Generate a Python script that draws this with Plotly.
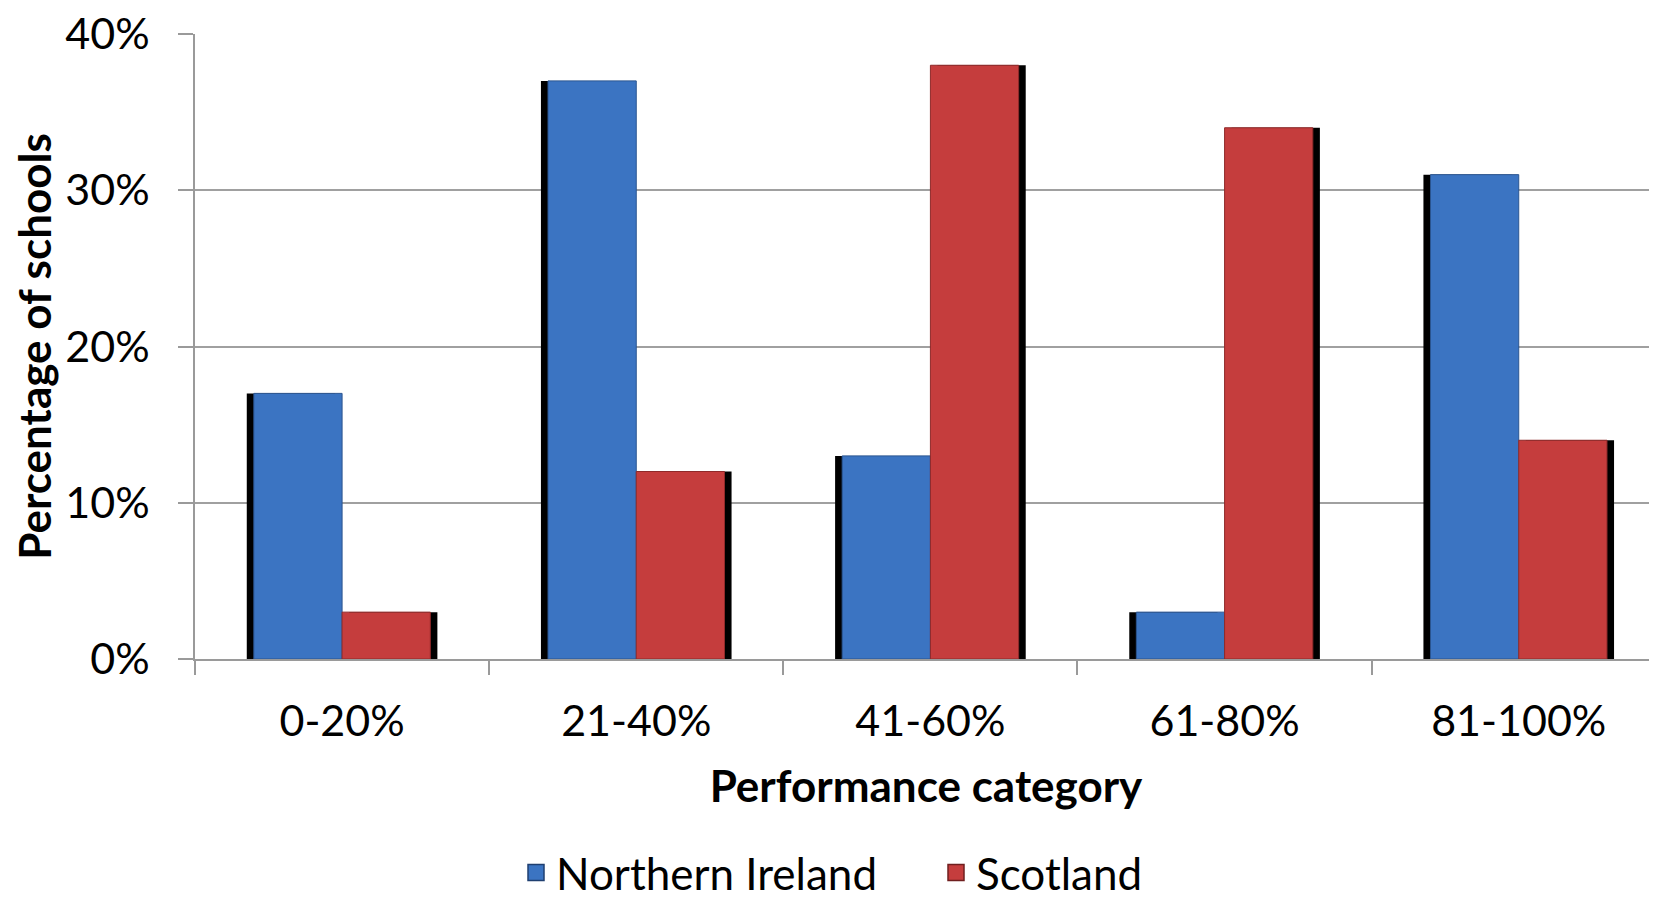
import plotly.graph_objects as go

categories = ["0-20%", "21-40%", "41-60%", "61-80%", "81-100%"]
northern_ireland = [17, 37, 13, 3, 31]
scotland = [3, 12, 38, 34, 14]
y_ticks = [0, 10, 20, 30, 40]
y_tick_labels = ["0%", "10%", "20%", "30%", "40%"]
series_names = ["Northern Ireland", "Scotland"]

BW = 0.30
SH = 0.024
FONT = "Lato"
BLUE = "#3b74c2"
RED = "#c53d3d"

fig = go.Figure()
# shadows
fig.add_trace(go.Bar(x=categories, y=northern_ireland, offset=-BW - SH, width=BW,
                     marker=dict(color="black", line=dict(width=0)), showlegend=False, hoverinfo="skip"))
fig.add_trace(go.Bar(x=categories, y=scotland, offset=SH, width=BW,
                     marker=dict(color="black", line=dict(width=0)), showlegend=False, hoverinfo="skip"))
# bars
fig.add_trace(go.Bar(x=categories, y=northern_ireland, offset=-BW, width=BW, name=series_names[0],
                     marker=dict(color=BLUE, line=dict(color="#2b5590", width=1)), showlegend=False))
fig.add_trace(go.Bar(x=categories, y=scotland, offset=0, width=BW, name=series_names[1],
                     marker=dict(color=RED, line=dict(color="#8f2a2a", width=1)), showlegend=False))
# legend entries with square symbols
for name, col, edge in [(series_names[0], BLUE, "#1f3f70"), (series_names[1], RED, "#6f1f1f")]:
    fig.add_trace(go.Scatter(x=[None], y=[None], mode="markers", name=name,
                             marker=dict(symbol="square", size=25, color=col, line=dict(color=edge, width=1.5))))

# page body has an 8px margin: figure is sized/offset to compensate
fig.update_layout(
    width=1649, height=893,
    margin=dict(l=187, r=0, t=26, b=242),
    barmode="overlay",
    plot_bgcolor="white", paper_bgcolor="white",
    font=dict(family=FONT, size=43, color="black"),
    legend=dict(orientation="h", xref="container", x=508 / 1649, xanchor="left",
                yref="container", y=0.0314, yanchor="middle",
                font=dict(size=44), itemwidth=30, traceorder="normal",
                entrywidth=375, entrywidthmode="pixels"),
)
fig.update_xaxes(
    range=[-0.5, 4.47], type="category", automargin=False,
    showline=True, linecolor="#9a9a9a", linewidth=1.5,
    ticks="outside", tickson="boundaries", ticklen=14, tickcolor="#9a9a9a", tickwidth=1.5,
    showgrid=False, ticklabelstandoff=24, ticklabeloverflow="allow",
    title=dict(text="<b>Performance category</b>", font=dict(size=44), standoff=27),
)
fig.update_yaxes(
    range=[0, 40], tickvals=y_ticks, ticktext=y_tick_labels, automargin=False,
    showline=True, linecolor="#9a9a9a", linewidth=1.5,
    ticks="outside", ticklen=15, tickcolor="#9a9a9a", tickwidth=1.5,
    showgrid=True, gridcolor="#a0a0a0", gridwidth=1.5, zeroline=False,
    ticklabelstandoff=20, ticklabeloverflow="allow",
    title=dict(text="<b>Percentage of schools</b>", font=dict(size=44), standoff=12),
)

fig.write_html("out.html")
